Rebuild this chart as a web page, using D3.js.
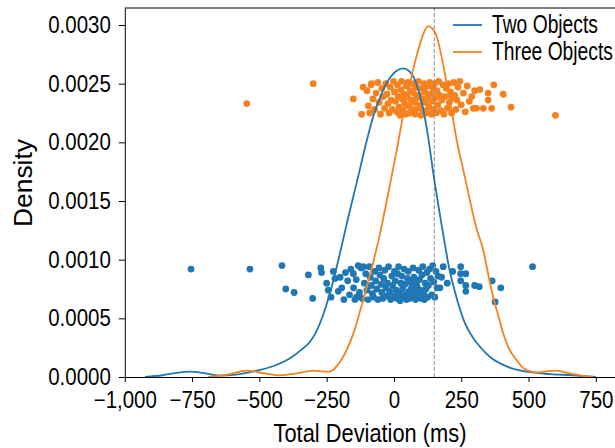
<!DOCTYPE html>
<html>
<head>
<meta charset="utf-8">
<script src="https://cdn.jsdelivr.net/npm/d3@7"></script>
<style>
  body { margin: 0; background: #fff; }
  text { font-family: "Liberation Sans", Arial, sans-serif; fill: #000; }
</style>
</head>
<body>
<svg id="chart" width="615" height="448"></svg>
<script>
// tick values
const xTicks = [-1000, -750, -500, -250, 0, 250, 500, 750]
const yTicks = [0, 0.0005, 0.001, 0.0015, 0.002, 0.0025, 0.003]
const seriesNames = ["Two Objects", "Three Objects"]
const threshold = 150

// KDE curves [deviation, density]
const kdeTwo = [[-925,0],[-860,0.000015],[-800,0.000038],[-758,0.000045],[-710,0.000035],[-646,0.000012],[-580,0.000022],[-498,0.00006],[-440,0.0001],[-386,0.00016],[-340,0.00024],[-312,0.0003],[-290,0.00038],[-263,0.00053],[-230,0.00078],[-200,0.00106],[-170,0.00136],[-139,0.00165],[-108,0.00195],[-77,0.00222],[-45,0.00242],[-15,0.00255],[10,0.00261],[35,0.00263],[55,0.00261],[72,0.00256],[90,0.00245],[109,0.00228],[128,0.00203],[146,0.00174],[171,0.00138],[190,0.00112],[204,0.00094],[225,0.00074],[245,0.00058],[260,0.00048],[295,0.00033],[319,0.00026],[357,0.00017],[419,0.00009],[493,0.000045],[580,0.000025],[665,0.000015],[750,0]]

const kdeThree = [[-690,0],[-620,0.00002],[-547,0.000054],[-480,0.00003],[-423,0.000014],[-360,0.00003],[-300,0.000054],[-260,0.000046],[-240,0.000046],[-226,0.00006],[-210,0.0001],[-200,0.00013],[-176,0.00023],[-151,0.00037],[-114,0.00066],[-80,0.00095],[-52,0.00122],[-20,0.00158],[10,0.00193],[35,0.00224],[59,0.0025],[80,0.0027],[97,0.00284],[112,0.00294],[127,0.00299],[143,0.00297],[159,0.0029],[178,0.00272],[196,0.0025],[215,0.00226],[233,0.00202],[258,0.00176],[282,0.00151],[305,0.00128],[332,0.00108],[350,0.00088],[369,0.00068],[388,0.00052],[406,0.00037],[430,0.00023],[456,0.000145],[478,0.00008],[499,0.000054],[520,0.000042],[542,0.00004],[570,0.00005],[604,0.000054],[635,0.00004],[666,0.000025],[700,0.00001],[740,0]]

// strip points [deviation, jittered height x1e-4]
const pointsTwo = [[-754,9.2],[-535,9.2],[-416,9.5],[-402,7.5],[-371,7.2],[-318,8.7],[-302,6.7],[-272,9.3],[-269,8.9],[-250,8.0],[-244,7.4],[-234,6.8],[-225,9.0],[-219,8.4],[-207,7.3],[-200,8.5],[-194,7.6],[-186,6.6],[-151,8.8],[-139,6.8],[-133,9.5],[-114,9.4],
  [-180,8.9],[-172,8.2],[-165,7.0],[-160,9.2],[-150,7.6],[-145,6.6],[-140,8.3],[-128,7.2],[-122,9.3],[-118,6.7],[-110,8.0],[-105,8.8],[-100,7.4],[-96,6.6],[-92,9.4],[-88,8.5],[-84,7.8],[-80,7.1],[-76,6.8],[-72,9.0],[-68,8.2],[-64,7.5],[-60,6.6],[-56,9.3],[-52,8.7],[-48,7.9],[-45,7.2],[-42,6.7],[-38,8.4],[-34,9.1],[-30,7.6],[-27,6.9],[-24,8.0],[-20,9.4],[-16,7.3],[-12,6.6],[-8,8.6],[-5,7.8],[-2,6.9],[2,9.0],[5,8.2],[8,7.4],[11,6.7],[14,8.8],[17,9.4],[20,7.1],[23,6.5],[26,8.0],[29,8.6],[32,7.5],[35,6.8],[38,9.2],[41,7.9],[44,7.0],[47,6.6],[50,8.4],[53,9.0],[56,7.3],[59,6.7],[62,8.1],[65,7.6],[68,6.9],[71,9.3],[74,8.5],[77,7.2],[80,6.6],[83,8.0],[86,7.7],[89,6.9],[92,9.1],[95,8.3],[98,7.4],[101,6.7],[104,8.7],[107,9.4],[110,7.1],[113,6.6],[116,8.0],[119,7.5],[122,8.9],[125,6.8],[128,7.8],[132,9.2],[136,8.4],[140,7.0],[144,9.5],[148,8.1],[152,6.8],[156,9.0],[160,7.6],[164,8.6],
  [171,7.6],[177,8.5],[183,9.4],[198,8.0],[218,9.0],[248,9.4],[248,8.8],[248,8.2],[267,8.8],[267,7.8],[267,7.3],[300,7.8],[317,7.7],[365,8.2],[376,6.4],[397,7.6],[515,9.4]]

const pointsThree = [[-547,23.3],[-300,25.0],[-151,23.7],[-120,22.4],[-114,24.7],[-83,25.0],
  [-100,24.4],[-95,23.1],[-90,22.5],[-85,24.9],[-78,23.7],[-72,22.8],[-66,24.2],[-60,25.1],[-55,23.4],[-50,22.4],[-45,24.6],[-40,23.9],[-35,22.9],[-30,25.0],[-26,24.1],[-22,23.3],[-18,22.5],[-14,24.7],[-10,23.6],[-6,22.8],[-2,25.2],[2,24.3],[6,23.5],[10,22.6],[13,24.9],[16,23.9],[19,23.0],[22,22.3],[25,24.5],[28,25.2],[31,23.7],[34,22.7],[37,24.1],[40,23.3],[43,22.4],[46,24.8],[49,23.9],[52,25.1],[55,23.1],[58,22.5],[61,24.4],[64,23.6],[67,22.8],[70,25.0],[73,24.2],[76,23.4],[79,22.4],[82,24.7],[85,23.8],[88,22.9],[91,25.2],[94,24.0],[97,23.2],[100,22.3],[103,24.6],[106,23.7],[109,22.7],[112,25.0],[115,24.3],[118,23.4],[121,22.5],[124,24.8],[127,23.9],[130,23.0],[133,25.1],[136,24.1],[139,22.4],[142,23.5],[145,24.6],[148,22.8],[151,25.0],[154,23.8],[157,22.5],[160,24.4],[163,23.2],[166,25.2],[170,24.0],[174,22.7],[178,23.6],[182,24.9],[186,22.4],[190,23.9],[194,24.6],[198,22.9],[202,25.0],[206,23.4],[210,24.3],[214,22.5],[218,23.8],[222,25.1],[226,24.0],[230,22.8],[234,23.6],[238,24.7],[250,23.2],[258,24.2],[265,22.6],[272,24.8],[280,23.5],[295,22.9],[300,24.4],
  [245,25.2],[289,23.9],[307,22.9],[319,24.5],[332,22.9],[350,24.2],[350,23.6],[363,22.9],[371,24.9],[406,24.1],[435,23.0],[600,22.3]]

const colors = ["#1f77b4", "#f5821f"]

const svg = d3.select("#chart")

const x = d3.scaleLinear().domain([-1000, 825]).range([124.8, 616])
const y = d3.scaleLinear().domain([0, 0.003145]).range([377, 8])

// squeeze a text horizontally (the reference uses a condensed face)
function condense(sel, factor) {
    sel.each(function() {
        const w = this.getComputedTextLength()
        d3.select(this).attr("textLength", w * factor).attr("lengthAdjust", "spacingAndGlyphs")
    })
}

// points first, lines on top
const dotGroups = [pointsTwo, pointsThree]
dotGroups.forEach((pts, i) => {
    svg.append("g")
       .selectAll("circle")
       .data(pts)
       .join("circle")
       .attr("cx", d => x(d[0]))
       .attr("cy", d => y(d[1] * 1e-4))
       .attr("r", 3.4)
       .attr("fill", colors[i])
})

// threshold line
svg.append("line")
   .attr("x1", x(threshold)).attr("x2", x(threshold))
   .attr("y1", y.range()[0]).attr("y2", y.range()[1])
   .attr("stroke", "#8c8c8c")
   .attr("stroke-width", 1)
   .attr("stroke-dasharray", "4,2")

const line = d3.line()
               .x(d => x(d[0]))
               .y(d => y(d[1]))
               .curve(d3.curveMonotoneX)

const curves = [kdeTwo, kdeThree]
curves.forEach((c, i) => {
    svg.append("path")
       .datum(c)
       .attr("d", line)
       .attr("fill", "none")
       .attr("stroke", colors[i])
       .attr("stroke-width", 1.8)
})

// axes
const fmt = d3.format(",")
const xAxis = svg.append("g")
   .attr("transform", `translate(0, ${y.range()[0]})`)
   .call(d3.axisBottom(x).tickValues(xTicks).tickFormat(fmt).tickSize(5).tickPadding(10).tickSizeOuter(0))
const yAxis = svg.append("g")
   .attr("transform", `translate(${x.range()[0]}, 0)`)
   .call(d3.axisLeft(y).tickValues(yTicks).tickFormat(d3.format(".4f")).tickSize(6).tickPadding(8).tickSizeOuter(0))

;[xAxis, yAxis].forEach(a => {
    a.selectAll("text").style("font-size", "23px").style("font-family", null).attr("fill", "#000")
    a.selectAll("line").attr("stroke", "#000")
    a.select(".domain").attr("stroke", "#000")
    condense(a.selectAll("text"), 0.89)
})

// top spine
svg.append("line")
   .attr("x1", x.range()[0]).attr("x2", x.range()[1])
   .attr("y1", y.range()[1]).attr("y2", y.range()[1])
   .attr("stroke", "#000")

// axis titles
svg.append("text")
   .attr("x", 370).attr("y", 442)
   .attr("text-anchor", "middle")
   .style("font-size", "26px")
   .attr("textLength", 193).attr("lengthAdjust", "spacingAndGlyphs")
   .text("Total Deviation (ms)")

svg.append("text")
   .attr("transform", "translate(32, 183) rotate(-90)")
   .attr("text-anchor", "middle")
   .style("font-size", "26px")
   .attr("textLength", 88).attr("lengthAdjust", "spacingAndGlyphs")
   .text("Density")

// legend
seriesNames.forEach((name, i) => {
    const ly = 25 + i * 27
    svg.append("line")
       .attr("x1", 453).attr("x2", 482)
       .attr("y1", ly).attr("y2", ly)
       .attr("stroke", colors[i])
       .attr("stroke-width", 1.8)
    const t = svg.append("text")
       .attr("x", 492).attr("y", ly + 8)
       .style("font-size", "25px")
       .text(name)
    condense(t, 0.77)
})
</script>
</body>
</html>
